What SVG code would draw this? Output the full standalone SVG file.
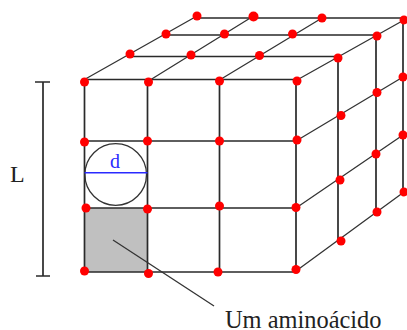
<svg xmlns="http://www.w3.org/2000/svg" width="407" height="330" viewBox="0 0 407 330">
<style>
.l{stroke:#2a2a2a;stroke-width:1.7;fill:none}
.t{stroke:#333;stroke-width:1.3;fill:none}
.d{fill:#ff0000}
text{font-family:"Liberation Serif","Times New Roman",serif}
</style>
<rect width="407" height="330" fill="#fff"/>
<rect id="cell" x="84.5" y="208" width="63" height="64" fill="#c0c0c0"/>
<g id="connectors">
<path class="l" d="M84.5 79.5H296M84.5 141H296M84.5 208H296M84.5 272H296M84.5 79.5V272M147.5 79.5V272M219.5 79.5V272M296 79.5V272"/>
<path class="l" d="M130 56.5H338M166 35H376M197 18H404M338 57V241M376 35V212M403 18V192"/>
<path class="t" d="M84.5 79.5L197 16M148.5 81L253.5 16M219.5 80L322 18M297 80L404 20M296 141L403 77M296 208L403 135M296 271L404 192"/>
<path class="l" d="M35 82H50M43 82V276M36 276H50"/>
<path class="t" d="M113 240L214 306"/>
</g>
<g id="sphere">
<circle cx="115.7" cy="174.5" r="30.8" fill="none" stroke="#333" stroke-width="1.3"/>
<path d="M84.5 172.8H147.5" stroke="#2a2aff" stroke-width="1.6"/>
<text x="115" y="168" font-size="20" fill="#2a2aff" text-anchor="middle">d</text>
</g>
<g id="dots" class="d">
<circle cx="84.5" cy="82" r="4.5"/><circle cx="148.5" cy="82" r="4.5"/><circle cx="219.5" cy="81" r="4.5"/><circle cx="297" cy="81" r="4.5"/>
<circle cx="84.5" cy="142" r="4.5"/><circle cx="147.5" cy="141" r="4.5"/><circle cx="219.5" cy="141" r="4.5"/><circle cx="297" cy="140" r="4.5"/>
<circle cx="86" cy="208" r="4.5"/><circle cx="147.5" cy="209" r="4.5"/><circle cx="219.5" cy="206" r="4.5"/><circle cx="296" cy="207.5" r="4.5"/>
<circle cx="84.5" cy="271" r="4.5"/><circle cx="148.5" cy="273.5" r="4.5"/><circle cx="218" cy="272" r="4.5"/><circle cx="296" cy="269.5" r="4.5"/>
<circle cx="130" cy="54" r="4.5"/><circle cx="166" cy="34" r="4.5"/><circle cx="197" cy="16" r="4.5"/>
<circle cx="191" cy="55" r="4.5"/><circle cx="224.5" cy="34" r="4.5"/><circle cx="253.5" cy="16.5" r="5"/>
<circle cx="259.5" cy="55.5" r="4.5"/><circle cx="292.5" cy="34" r="4.5"/><circle cx="322" cy="18" r="4.5"/>
<circle cx="338" cy="58" r="4.5"/><circle cx="377" cy="36" r="4.5"/><circle cx="404" cy="20" r="4.5"/>
<circle cx="341" cy="115.5" r="4.5"/><circle cx="377" cy="92.5" r="4.5"/><circle cx="403" cy="77" r="4.5"/>
<circle cx="340" cy="180" r="4.5"/><circle cx="376" cy="154" r="4.5"/><circle cx="403" cy="135" r="4.5"/>
<circle cx="341" cy="241" r="4.5"/><circle cx="377" cy="212" r="4.5"/><circle cx="404" cy="192" r="4.5"/>
</g>
<text id="label-L" x="10" y="182" font-size="24" fill="#222">L</text>
<text id="label-amino" x="225" y="328" font-size="24.4" fill="#222">Um aminoácido</text>
</svg>
